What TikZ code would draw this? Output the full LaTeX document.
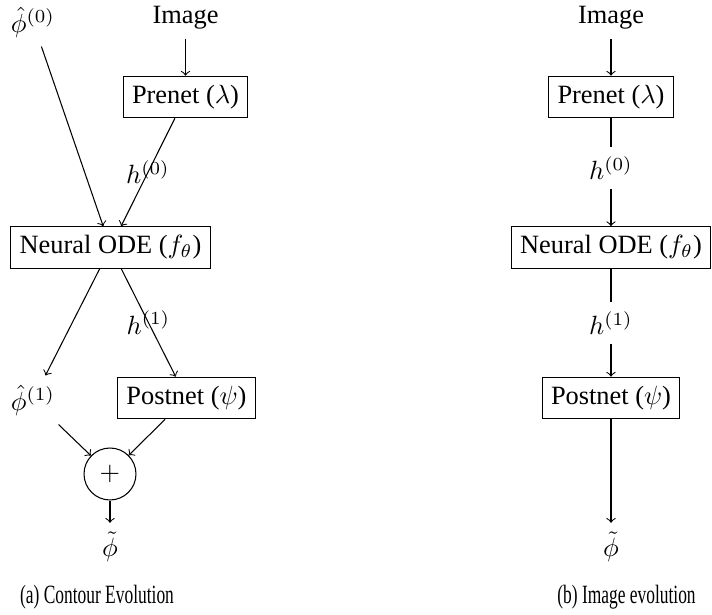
\documentclass[tikz,border=0pt]{standalone}
\usepackage[no-math]{fontspec}
\setmainfont{Liberation Serif}
\usepackage{amsfonts}
\usepackage{amsmath}
\usepackage{amssymb}
\usepackage{graphicx}
\usepackage{tikz}

\tikzset{block/.style={draw, rectangle}}

\begin{document}
\begin{tikzpicture}[x=0.379pt, y=-0.379pt]
	\useasboundingbox (0,0) rectangle (712,615);
	% (a) contour evolution
	\node (phi0) at (33,22) {$\hat{\phi}^{(0)}$};
	\node (img) at (185.5,18) {Image};
	\node[block] (pre) at (185.5,97) {Prenet ($\lambda$)};
	\node[block] (ode) at (110.5,247.5) {Neural ODE ($f_\theta$)};
	\node (phi1) at (33,400) {$\hat{\phi}^{(1)}$};
	\node[block] (post) at (186.5,398) {Postnet ($\psi$)};
	\node[shape=circle, draw, minimum size=19.7pt] (plus) at (110,474) {$+$};
	\node (phit) at (110,547) {$\tilde{\phi}$};
	\node (capa) at (97,597) {\scalebox{0.66}[1]{(a) Contour Evolution}};
	
	\path [->] (img) edge (pre);
	\path [->] (phi0) edge (ode);
	\path [->] (pre) edge node {$h^{(0)}$} (ode);
	\path [->] (ode) edge (phi1);
	\path [->] (ode) edge node {$h^{(1)}$} (post);
	\path [->] (phi1) edge (plus);
	\path [->] (post) edge (plus);
	\path [->] (plus) edge (phit);
	
	% (b) image evolution
	\node (img2) at (611,18) {Image};
	\node[block] (pre2) at (611,97) {Prenet ($\lambda$)};
	\node (h0) at (611,168) {$h^{(0)}$};
	\node[block] (ode2) at (611,247.5) {Neural ODE ($f_\theta$)};
	\node (h1) at (611,323) {$h^{(1)}$};
	\node[block] (post2) at (611,398) {Postnet ($\psi$)};
	\node (phit2) at (611,547) {$\tilde{\phi}$};
	\node (capb) at (626.5,597) {\scalebox{0.66}[1]{(b) Image evolution}};
	
	\path [->] (img2) edge (pre2);
	\path [-] (pre2) edge (h0);
	\path [->] (h0) edge (ode2);
	\path [-] (ode2) edge (h1);
	\path [->] (h1) edge (post2);
	\path [->] (post2) edge (phit2);
\end{tikzpicture}
\end{document}
